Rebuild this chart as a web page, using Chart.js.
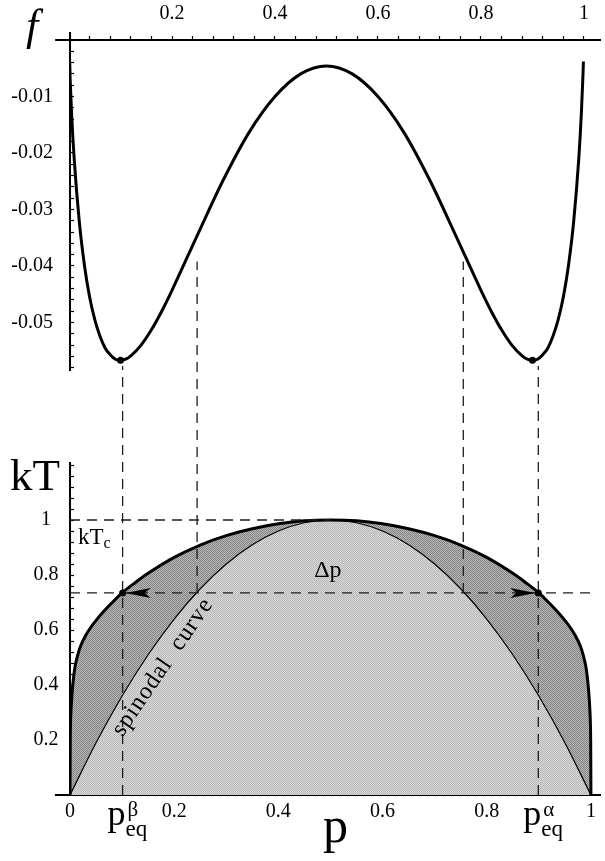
<!DOCTYPE html>
<html>
<head>
<meta charset="utf-8">
<script src="https://cdn.jsdelivr.net/npm/chart.js@4.4.1/dist/chart.umd.min.js"></script>
<style>
  html, body { margin: 0; padding: 0; background: #fff; }
  #wrap { width: 605px; height: 861px; }
</style>
</head>
<body>
<div id="wrap"><canvas id="phase" width="605" height="861"></canvas></div>
<script>
// Free energy (top) and phase diagram (bottom)

// --- top panel: f(p)
const fP = [0.001, 0.002, 0.005, 0.01, 0.02, 0.03, 0.04, 0.05, 0.06, 0.07, 0.08, 0.09, 0.1, 0.11, 0.12, 0.14, 0.16, 0.18, 0.2, 0.25, 0.3, 0.35, 0.4, 0.45, 0.5,
  0.55, 0.6, 0.65, 0.7, 0.75, 0.8, 0.82, 0.84, 0.86, 0.88, 0.89, 0.9, 0.91, 0.92, 0.93, 0.94, 0.95, 0.96, 0.97, 0.98, 0.99, 0.995, 0.998, 0.999];
const fVal = [-0.0038, -0.0065, -0.0130, -0.0210, -0.0322, -0.0399, -0.0455, -0.0495, -0.0524, -0.0545, -0.0557, -0.0565, -0.0567, -0.0565, -0.0559, -0.0540, -0.0513, -0.0480, -0.0443, -0.0344, -0.0247, -0.0163, -0.0100, -0.0060, -0.0046,
  -0.0060, -0.0100, -0.0163, -0.0247, -0.0344, -0.0443, -0.0480, -0.0513, -0.0540, -0.0559, -0.0565, -0.0567, -0.0565, -0.0557, -0.0545, -0.0524, -0.0495, -0.0455, -0.0399, -0.0322, -0.0210, -0.0130, -0.0065, -0.0038];
const fMinP = [0.1, 0.9];
const fMinVal = [-0.0567, -0.0567];

// --- bottom panel: coexistence curve and spinodal, kT(p)
const binP = [0, 0.0005, 0.001, 0.002, 0.004, 0.007, 0.01, 0.015, 0.02, 0.03, 0.04, 0.05, 0.065, 0.08, 0.1, 0.125, 0.15, 0.2, 0.25, 0.3, 0.35, 0.4, 0.45, 0.5,
  0.55, 0.6, 0.65, 0.7, 0.75, 0.8, 0.85, 0.875, 0.9, 0.92, 0.935, 0.95, 0.96, 0.97, 0.98, 0.985, 0.99, 0.993, 0.996, 0.998, 0.999, 0.9995, 1];
const binKT = [0, 0.2, 0.26, 0.31, 0.37, 0.43, 0.47, 0.51, 0.54, 0.58, 0.61, 0.635, 0.668, 0.698, 0.735, 0.772, 0.806, 0.864, 0.909, 0.943, 0.968, 0.986, 0.997, 1,
  0.997, 0.986, 0.968, 0.943, 0.909, 0.864, 0.806, 0.772, 0.735, 0.698, 0.668, 0.635, 0.61, 0.58, 0.54, 0.51, 0.47, 0.43, 0.37, 0.31, 0.26, 0.2, 0];
const spinP = [0, 0.05, 0.1, 0.15, 0.2, 0.25, 0.3, 0.35, 0.4, 0.45, 0.5, 0.55, 0.6, 0.65, 0.7, 0.75, 0.8, 0.85, 0.9, 0.95, 1];
const spinKT = [0, 0.19, 0.36, 0.51, 0.64, 0.75, 0.84, 0.91, 0.96, 0.99, 1, 0.99, 0.96, 0.91, 0.84, 0.75, 0.64, 0.51, 0.36, 0.19, 0];

// guide lines (kT units of the lower panel; tops reach up into the f panel)
const peqP = [0.101, 0.899];
const spinAtTie = [0.244, 0.755];
const tieKT = 0.735;
const kTc = 1;
const tieEnd = 1.01;
const eqGuideTop = 1.56;
const spinGuideTop = 1.94;

// tick labels
const pTickLabels = [0, 0.2, 0.4, 0.6, 0.8, 1];
const pTopTickLabels = [0.2, 0.4, 0.6, 0.8, 1];
const fTickLabels = [-0.05, -0.04, -0.03, -0.02, -0.01];
const kTTickLabels = [0.2, 0.4, 0.6, 0.8, 1];

const serif = '"Liberation Serif", "Times New Roman", serif';
const tickFont = { family: serif, size: 20 };
const pts = (xs, ys) => xs.map((v, i) => ({ x: v, y: ys[i] }));

const canvas = document.getElementById('phase');
const ctx0 = canvas.getContext('2d');

// halftone-like fill
function stipple(a, b) {
  const c = document.createElement('canvas');
  c.width = 2; c.height = 2;
  const g = c.getContext('2d');
  g.fillStyle = a; g.fillRect(0, 0, 2, 2);
  g.fillStyle = b; g.fillRect(0, 0, 1, 1); g.fillRect(1, 1, 1, 1);
  return ctx0.createPattern(c, 'repeat');
}
const darkFill = stipple('#b8b8b8', '#838383');
const lightFill = stipple('#dadada', '#b6b6b6');

// ticks every `step`, labels only on the majors
function tickSet(majors, from, to, step) {
  return {
    build: s => {
      const t = [];
      for (let v = from; v <= to + step / 2; v += step) t.push({ value: +v.toFixed(4) });
      s.ticks = t;
    },
    label: v => majors.some(m => Math.abs(m - v) < 1e-6) ? String(v) : ''
  };
}
const pTicks = tickSet(pTickLabels, 0, 1, 0.04);
const pTopTicks = tickSet(pTopTickLabels, 0.04, 1, 0.04);
const fTicks = tickSet(fTickLabels, -0.058, 0, 0.002);
const kTTicks = tickSet(kTTickLabels, 0.04, 1.2, 0.04);

const dash = {
  borderColor: '#1e1e1e', borderWidth: 1.3, borderDash: [10, 7], clip: false,
  pointRadius: 0, showLine: true, fill: false, xAxisID: 'x', yAxisID: 'yK'
};
const stub = { borderColor: '#000', borderWidth: 2, pointRadius: 0, showLine: true, fill: false, clip: false };

function arrowHead(ctx, tipX, tipY, dir) {
  ctx.beginPath();
  ctx.moveTo(tipX, tipY);
  ctx.lineTo(tipX + dir * 25, tipY - 5);
  ctx.lineTo(tipX + dir * 19, tipY);
  ctx.lineTo(tipX + dir * 25, tipY + 5);
  ctx.closePath();
  ctx.fill();
}

// text and arrowheads placed off the scales
const annotate = {
  id: 'annotate',
  afterDatasetsDraw(chart) {
    const { ctx, scales: { x, yK } } = chart;
    ctx.save();
    ctx.fillStyle = '#000';
    ctx.textBaseline = 'alphabetic';

    const ty = yK.getPixelForValue(tieKT);
    arrowHead(ctx, x.getPixelForValue(peqP[0]) + 3, ty, 1);
    arrowHead(ctx, x.getPixelForValue(peqP[1]) - 3, ty, -1);

    // axis names
    ctx.textAlign = 'center';
    ctx.font = 'italic 44px ' + serif;
    ctx.fillText('f', 32, 40);
    ctx.textAlign = 'left';
    ctx.font = '45px ' + serif;
    ctx.fillText('kT', 10, 490);

    // kT_c
    ctx.font = '23px ' + serif;
    const kx = x.getPixelForValue(0) + 8;
    const ky = yK.getPixelForValue(kTc) + 24;
    ctx.fillText('kT', kx, ky);
    const kw = ctx.measureText('kT').width;
    ctx.font = '16px ' + serif;
    ctx.fillText('c', kx + kw, ky + 4);

    // delta p
    ctx.textAlign = 'center';
    ctx.font = '24px ' + serif;
    ctx.fillText('\u0394p', x.getPixelForValue(0.495), ty - 16);

    // spinodal curve label
    ctx.save();
    ctx.translate(x.getPixelForValue(0.178), yK.getPixelForValue(0.465));
    ctx.rotate(-55.7 * Math.PI / 180);
    ctx.font = '24px ' + serif;
    ctx.textBaseline = 'middle';
    ctx.letterSpacing = '1px';
    ctx.fillText('spinodal  curve', 0, 0);
    ctx.restore();

    // p_eq labels under the axis
    [[peqP[0], '\u03B2'], [peqP[1], '\u03B1']].forEach(([p, g]) => {
      const px = x.getPixelForValue(p);
      ctx.textAlign = 'right';
      ctx.font = '36px ' + serif;
      ctx.fillText('p', px + 3, 825);
      ctx.textAlign = 'left';
      ctx.font = '21px ' + serif;
      ctx.fillText(g, px + 5, 816);
      ctx.font = '23px ' + serif;
      ctx.fillText('eq', px + 3, 836);
    });
    ctx.restore();
  }
};

new Chart(canvas, {
  type: 'scatter',
  data: {
    datasets: [
      // equilibrium dots
      { data: pts(peqP, [tieKT, tieKT]), pointRadius: 3.5, backgroundColor: '#000', borderWidth: 0, xAxisID: 'x', yAxisID: 'yK' },
      { data: pts(fMinP, fMinVal), pointRadius: 3.5, backgroundColor: '#000', borderWidth: 0, xAxisID: 'xTop', yAxisID: 'yF' },
      // dashed guides
      { ...dash, data: [{ x: peqP[0], y: 0 }, { x: peqP[0], y: eqGuideTop }] },
      { ...dash, data: [{ x: peqP[1], y: 0 }, { x: peqP[1], y: eqGuideTop }] },
      { ...dash, data: [{ x: spinAtTie[0], y: tieKT }, { x: spinAtTie[0], y: spinGuideTop }] },
      { ...dash, data: [{ x: spinAtTie[1], y: tieKT }, { x: spinAtTie[1], y: spinGuideTop }] },
      { ...dash, data: [{ x: 0, y: kTc }, { x: 0.5, y: kTc }] },
      { ...dash, data: [{ x: 0, y: tieKT }, { x: tieEnd, y: tieKT }] },
      // free energy curve
      { data: pts(fP, fVal), showLine: true, borderColor: '#000', borderWidth: 3, pointRadius: 0,
        cubicInterpolationMode: 'monotone', xAxisID: 'xTop', yAxisID: 'yF' },
      // spinodal
      { data: pts(spinP, spinKT), showLine: true, borderColor: '#000', borderWidth: 1.2, pointRadius: 0,
        cubicInterpolationMode: 'monotone', fill: 'origin', backgroundColor: lightFill, xAxisID: 'x', yAxisID: 'yK' },
      // coexistence curve
      { data: pts(binP, binKT), showLine: true, borderColor: '#000', borderWidth: 3, pointRadius: 0,
        cubicInterpolationMode: 'monotone', fill: 'origin', backgroundColor: darkFill, xAxisID: 'x', yAxisID: 'yK' },
      // axis stubs
      { ...stub, data: [{ x: -0.029, y: 0 }, { x: 0, y: 0 }], xAxisID: 'x', yAxisID: 'yK' },
      { ...stub, data: [{ x: -0.027, y: 0 }, { x: 0.002, y: 0 }, { x: 0.002, y: 0.0014 }], xAxisID: 'xTop', yAxisID: 'yF' }
    ]
  },
  options: {
    responsive: false,
    animation: false,
    devicePixelRatio: 1,
    events: [],
    layout: { padding: 0, autoPadding: false },
    plugins: {
      legend: { display: false },
      tooltip: { enabled: false },
      filler: { drawTime: 'beforeDatasetsDraw' }
    },
    scales: {
      x: {
        type: 'linear', axis: 'x', position: 'bottom', min: 0, max: 1.019,
        afterFit: s => { s.height = 66; },
        afterBuildTicks: pTicks.build,
        border: { color: '#000', width: 2 },
        grid: { drawOnChartArea: false, tickLength: -4, tickColor: '#000', tickWidth: 1.2 },
        ticks: { font: tickFont, color: '#000', padding: 9, autoSkip: false, maxRotation: 0, callback: pTicks.label },
        title: { display: true, text: 'p', color: '#000', font: { family: serif, size: 50 }, padding: { top: 0, bottom: 2 } }
      },
      xTop: {
        type: 'linear', axis: 'x', position: 'top', min: 0.0019, max: 1.0328,
        afterFit: s => { s.height = 40; },
        afterBuildTicks: pTopTicks.build,
        border: { color: '#000', width: 2 },
        grid: { drawOnChartArea: false, tickLength: 4, tickColor: '#000', tickWidth: 1.2 },
        ticks: { font: tickFont, color: '#000', padding: 10, autoSkip: false, maxRotation: 0, callback: pTopTicks.label }
      },
      yF: {
        type: 'linear', axis: 'y', position: 'left', stack: 'left', stackWeight: 330, weight: 3,
        min: -0.05841, max: 0,
        afterFit: s => { s.width = 70; },
        afterBuildTicks: fTicks.build,
        border: { color: '#000', width: 2 },
        grid: { drawOnChartArea: false, tickLength: -4, tickColor: '#000', tickWidth: 1.2 },
        ticks: { font: tickFont, color: '#000', padding: 21, autoSkip: false, callback: fTicks.label }
      },
      yGap: {
        type: 'linear', axis: 'y', position: 'left', stack: 'left', stackWeight: 93, weight: 2,
        display: false, min: 0, max: 1
      },
      yK: {
        type: 'linear', axis: 'y', position: 'left', stack: 'left', stackWeight: 332, weight: 1,
        min: 0, max: 1.2073,
        afterFit: s => { s.width = 70; },
        afterBuildTicks: kTTicks.build,
        border: { color: '#000', width: 2 },
        grid: { drawOnChartArea: false, tickLength: -4, tickColor: '#000', tickWidth: 1.2 },
        ticks: { font: tickFont, color: '#000', padding: 15.5, crossAlign: 'center', autoSkip: false, callback: kTTicks.label }
      }
    }
  },
  plugins: [annotate]
});
</script>
</body>
</html>
